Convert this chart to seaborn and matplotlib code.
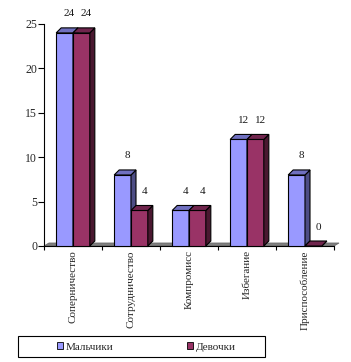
import matplotlib
matplotlib.use("Agg")
import matplotlib.pyplot as plt
from matplotlib.patches import Polygon, Rectangle, Patch
import seaborn as sns
import pandas as pd

categories = ["Соперничество", "Сотрудничество", "Компромисс", "Избегание", "Приспособление"]
series = ["Мальчики", "Девочки"]
boys = [24, 8, 4, 12, 8]
girls = [24, 4, 4, 12, 0]
yticks = [0, 5, 10, 15, 20, 25]

front = {"Мальчики": "#9999FF", "Девочки": "#993366"}
top_c = ["#7070C0", "#70254D"]
side_c = ["#4D4D85", "#4A1830"]

df = pd.DataFrame({
    "cat": categories * 2,
    "sex": [series[0]] * len(categories) + [series[1]] * len(categories),
    "val": boys + girls,
})

sns.set_theme(style="white")
plt.rcParams["font.family"] = ["Liberation Serif", "DejaVu Serif"]

W, H = 351, 362
fig = plt.figure(figsize=(W / 100, H / 100), dpi=100)
ax = fig.add_axes([44 / W, 1 - 246 / H, 290 / W, 222 / H])

sns.barplot(data=df, x="cat", y="val", hue="sex", palette=front, width=0.58,
            saturation=1, edgecolor="black", linewidth=0.8, legend=False, ax=ax)

ax.set_xlim(-0.5, len(categories) - 0.5)
ax.set_ylim(0, 25)

# pixel -> data conversions for 3D depth
px_x = (len(categories)) / 290.0
px_y = 25 / 222.0
dx, dy = 5 * px_x, 5 * px_y

# floor
fdy = 3 * px_y
floor = Polygon([(-0.5, 0), (len(categories) - 0.5, 0),
                 (len(categories) - 0.5 + dx, fdy), (-0.5 + dx, fdy)],
                closed=True, facecolor="#808080", edgecolor="#6a6a6a",
                linewidth=0.6, zorder=2, clip_on=False)
ax.add_patch(floor)

for i, cont in enumerate(ax.containers):
    z = 3 + i
    for p in cont.patches:
        p.set_zorder(z)
        p.set_clip_on(False)
        x0, w, h = p.get_x(), p.get_width(), p.get_height()
        x1 = x0 + w
        topp = Polygon([(x0, h), (x1, h), (x1 + dx, h + dy), (x0 + dx, h + dy)],
                       closed=True, facecolor=top_c[i], edgecolor="black",
                       linewidth=0.8, zorder=z + 0.5, clip_on=False)
        sidep = Polygon([(x1, 0), (x1 + dx, dy), (x1 + dx, h + dy), (x1, h)],
                        closed=True, facecolor=side_c[i], edgecolor="black",
                        linewidth=0.8, zorder=z + 0.5, clip_on=False)
        ax.add_patch(sidep)
        ax.add_patch(topp)
        ax.annotate(f"{h:g}", xy=(x0 + w / 2, h), xytext=(5, 19),
                    textcoords="offset pixels", ha="center", va="center",
                    fontsize=8, color="#1a1a1a", annotation_clip=False)

for s in ["top", "right"]:
    ax.spines[s].set_visible(False)
for s in ["left", "bottom"]:
    ax.spines[s].set_color("black")
    ax.spines[s].set_linewidth(0.8)

ax.set_yticks(yticks)
ax.set_yticklabels([str(t) for t in yticks], fontsize=8.5)
ax.tick_params(axis="y", direction="out", length=4, width=0.8, color="black", pad=1, left=True)

ax.set_xticks(range(len(categories)))
ax.set_xticklabels(categories, rotation=90, fontsize=8, va="top", ha="center")
ax.tick_params(axis="x", which="major", length=0, pad=3)
ax.set_xticks([i - 0.5 for i in range(len(categories) + 1)], minor=True)
ax.tick_params(axis="x", which="minor", direction="out", length=3, width=0.8, color="black", bottom=True)
ax.set_xlabel("")
ax.set_ylabel("")
ax.grid(False)

# legend frame and entries
fig.patches.append(Rectangle((18 / W, 1 - 357 / H), 247 / W, 21 / H, transform=fig.transFigure,
                             facecolor="white", edgecolor="black", linewidth=0.8))
handles = [Patch(facecolor=front[s], edgecolor="black", linewidth=0.6) for s in series]
fig.legend(handles, series, loc="center left", bbox_to_anchor=(57 / W, 1 - 347 / H),
           ncol=2, frameon=False, fontsize=8, handlelength=0.5, handleheight=0.6,
           handletextpad=0.3, columnspacing=6.6, borderpad=0, borderaxespad=0)

fig.savefig("out.png", dpi=100)
